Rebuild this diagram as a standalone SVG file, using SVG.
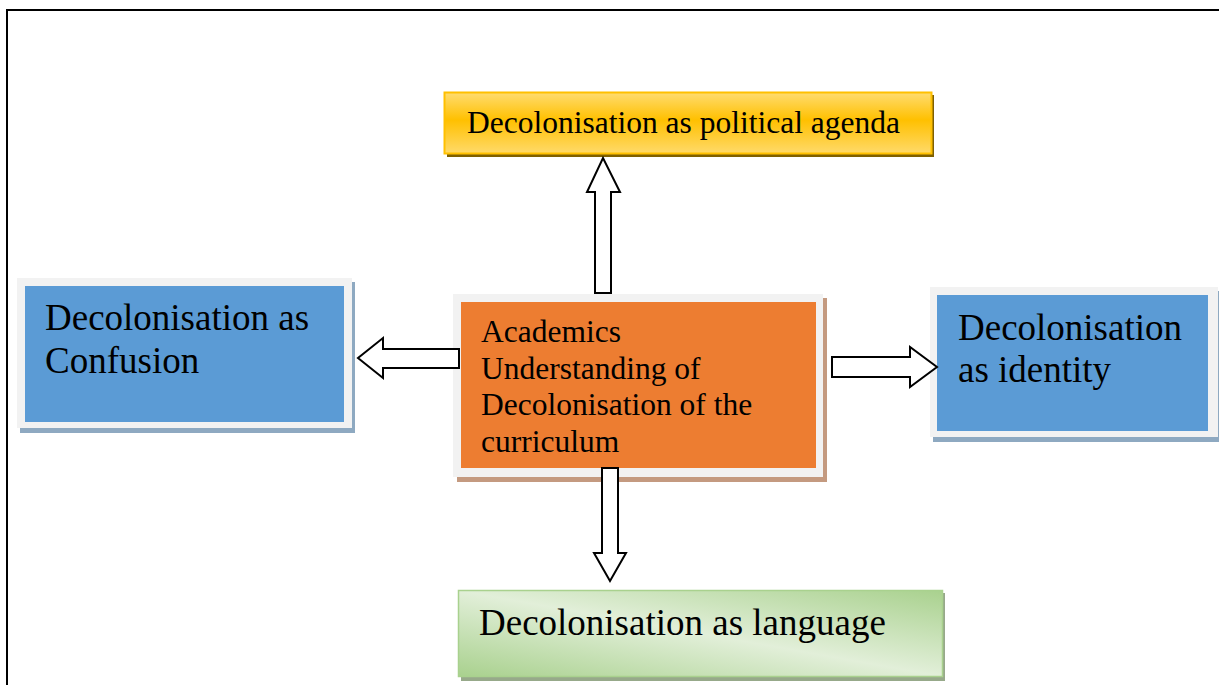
<svg xmlns="http://www.w3.org/2000/svg" width="1219" height="685" viewBox="0 0 1219 685">
<style>
.t{font-family:"Liberation Serif","Times New Roman",serif;fill:#000}
.arrow{fill:#fff;stroke:#000;stroke-width:2;stroke-linejoin:miter}
.frame{fill:#f2f2f2}
</style>
<defs>
<linearGradient id="gy" x1="0" y1="0" x2="0" y2="1">
<stop offset="0" stop-color="#ffdc70"/>
<stop offset="0.45" stop-color="#ffc000"/>
<stop offset="1" stop-color="#ffda6a"/>
</linearGradient>
<linearGradient id="gg" x1="0" y1="1" x2="1" y2="0">
<stop offset="0" stop-color="#a9d18e"/>
<stop offset="0.5" stop-color="#e2efd9"/>
<stop offset="1" stop-color="#a9d18e"/>
</linearGradient>
</defs>
<rect width="1219" height="685" fill="#fff"/>
<path d="M7,685 V10 H1219" fill="none" stroke="#000" stroke-width="2"/>

<g id="node-political">
<rect x="447" y="95" width="487" height="62" fill="#7f6000"/>
<rect x="444.5" y="92.5" width="487" height="61" fill="url(#gy)" stroke="#ffc000" stroke-width="2"/>
<text class="t" x="467" y="133" font-size="31.5">Decolonisation as political agenda</text>
</g>

<g id="node-center">
<rect x="457" y="298" width="370" height="184" fill="#c49a80"/>
<rect class="frame" x="453" y="294" width="370" height="183"/>
<rect x="461" y="302" width="355" height="166" fill="#ed7d31"/>
<text class="t" x="481" y="342" font-size="31.5">Academics</text>
<text class="t" x="481" y="378.5" font-size="31.5">Understanding of</text>
<text class="t" x="481" y="415" font-size="31.5">Decolonisation of the</text>
<text class="t" x="481" y="451.5" font-size="31.5">curriculum</text>
</g>

<g id="node-confusion">
<rect x="20" y="282" width="335" height="151" fill="#8ea9c1"/>
<rect class="frame" x="17" y="278" width="335" height="150"/>
<rect x="25" y="286" width="319" height="136" fill="#5b9bd5"/>
<text class="t" x="45" y="330" font-size="37">Decolonisation as</text>
<text class="t" x="45" y="373" font-size="37">Confusion</text>
</g>

<g id="node-identity">
<rect x="933" y="291" width="286" height="151" fill="#8ea9c1"/>
<rect class="frame" x="930" y="287" width="288" height="150"/>
<rect x="937" y="295" width="271" height="136" fill="#5b9bd5"/>
<text class="t" x="958" y="340" font-size="37">Decolonisation</text>
<text class="t" x="958" y="382" font-size="37">as identity</text>
</g>

<g id="node-language">
<rect x="461" y="593" width="484" height="88" fill="#97a98a"/>
<rect x="458.5" y="590.5" width="484" height="86" fill="url(#gg)" stroke="#a9d18e" stroke-width="1.5"/>
<text class="t" x="479" y="635" font-size="37">Decolonisation as language</text>
</g>

<g id="connectors">
<polygon class="arrow" points="595,293 595,192 587,192 603,158 620,192 611,192 611,293"/>
<polygon class="arrow" points="459,349 383,349 383,338 358,358 383,378 383,368 459,368"/>
<polygon class="arrow" points="832,357 910,357 910,347 937,367 910,387 910,377 832,377"/>
<polygon class="arrow" points="602,468 618,468 618,553 626,553 610,581 594,553 602,553"/>
</g>
</svg>
